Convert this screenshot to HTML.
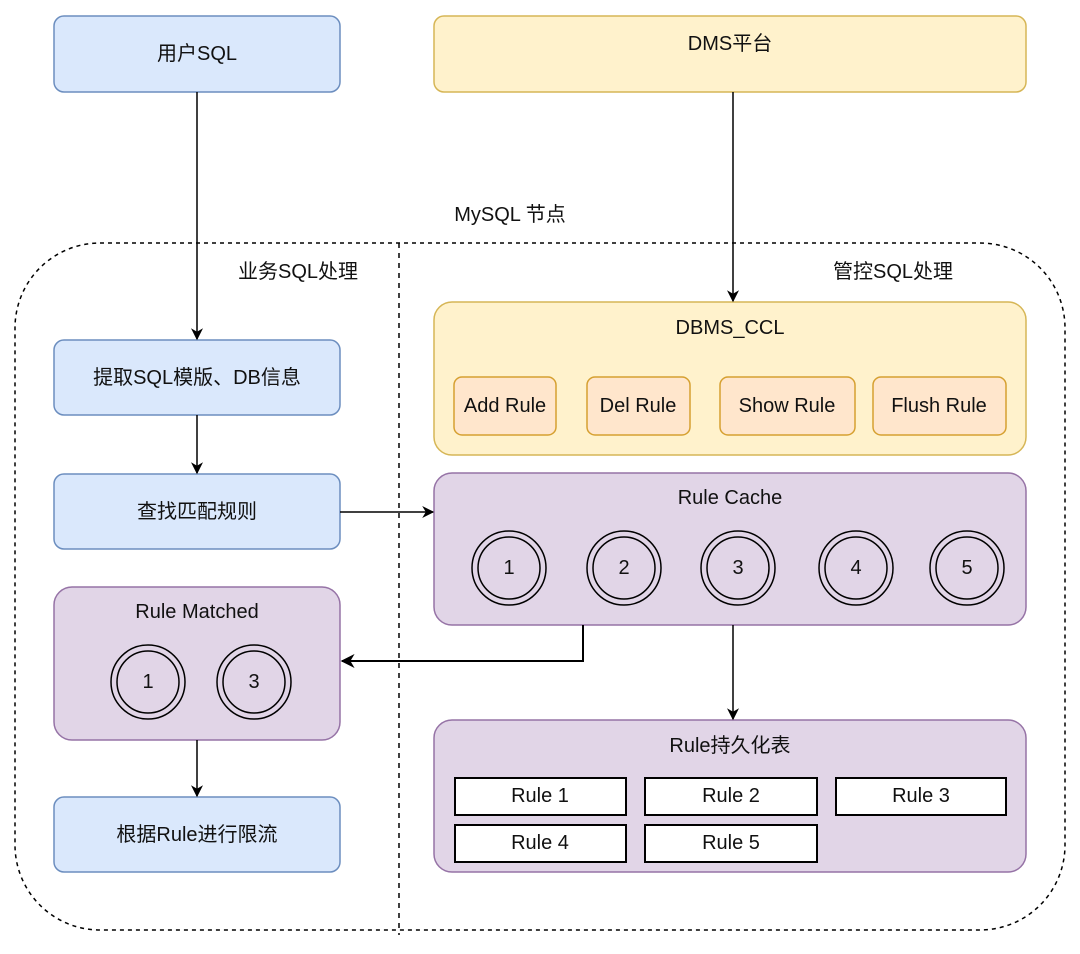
<!DOCTYPE html>
<html><head><meta charset="utf-8"><style>
html,body{margin:0;padding:0;background:#fff}
svg{display:block}
text{font-family:"Liberation Sans","Noto Sans CJK SC",sans-serif;font-size:20px;fill:#111;text-anchor:middle;dominant-baseline:central}
</style></head><body>
<svg width="1080" height="954" viewBox="0 0 1080 954" xmlns="http://www.w3.org/2000/svg">
<defs><marker id="a" viewBox="0 0 10 10" refX="9" refY="5" markerWidth="14" markerHeight="12" orient="auto" markerUnits="userSpaceOnUse"><path d="M0,0 L10,5 L0,10 L3,5 z" fill="#000"/></marker>
<marker id="b" viewBox="0 0 10 10" refX="9" refY="5" markerWidth="14" markerHeight="14" orient="auto" markerUnits="userSpaceOnUse"><path d="M0,0 L10,5 L0,10 L3,5 z" fill="#000"/></marker></defs>
<rect x="15" y="243" width="1050" height="687" rx="85" fill="none" stroke="#000" stroke-width="1.5" stroke-dasharray="4,4"/>
<line x1="399" y1="243" x2="399" y2="935" stroke="#000" stroke-width="1.5" stroke-dasharray="5,5"/>
<text x="510" y="215">MySQL 节点</text>
<text x="298" y="272">业务SQL处理</text>
<text x="893" y="272">管控SQL处理</text>
<g stroke-width="1.5">
<rect x="54" y="16" width="286" height="76" rx="10" fill="#dae8fc" stroke="#6c8ebf"/>
<rect x="434" y="16" width="592" height="76" rx="10" fill="#fff2cc" stroke="#d6b656"/>
<rect x="54" y="340" width="286" height="75" rx="10" fill="#dae8fc" stroke="#6c8ebf"/>
<rect x="54" y="474" width="286" height="75" rx="10" fill="#dae8fc" stroke="#6c8ebf"/>
<rect x="54" y="587" width="286" height="153" rx="18" fill="#e1d5e7" stroke="#9673a6"/>
<rect x="54" y="797" width="286" height="75" rx="10" fill="#dae8fc" stroke="#6c8ebf"/>
<rect x="434" y="302" width="592" height="153" rx="18" fill="#fff2cc" stroke="#d6b656"/>
<rect x="454" y="377" width="102" height="58" rx="8" fill="#ffe6cc" stroke="#d6a030"/>
<rect x="587" y="377" width="103" height="58" rx="8" fill="#ffe6cc" stroke="#d6a030"/>
<rect x="720" y="377" width="135" height="58" rx="8" fill="#ffe6cc" stroke="#d6a030"/>
<rect x="873" y="377" width="133" height="58" rx="8" fill="#ffe6cc" stroke="#d6a030"/>
<rect x="434" y="473" width="592" height="152" rx="18" fill="#e1d5e7" stroke="#9673a6"/>
<rect x="434" y="720" width="592" height="152" rx="18" fill="#e1d5e7" stroke="#9673a6"/>
</g>
<g fill="#fff" stroke="#000" stroke-width="2">
<rect x="455" y="778" width="171" height="37"/><rect x="645" y="778" width="172" height="37"/><rect x="836" y="778" width="170" height="37"/>
<rect x="455" y="825" width="171" height="37"/><rect x="645" y="825" width="172" height="37"/>
</g>
<g fill="none" stroke="#000" stroke-width="1.5">
<circle cx="509" cy="568" r="37"/><circle cx="509" cy="568" r="31"/>
<circle cx="624" cy="568" r="37"/><circle cx="624" cy="568" r="31"/>
<circle cx="738" cy="568" r="37"/><circle cx="738" cy="568" r="31"/>
<circle cx="856" cy="568" r="37"/><circle cx="856" cy="568" r="31"/>
<circle cx="967" cy="568" r="37"/><circle cx="967" cy="568" r="31"/>
<circle cx="148" cy="682" r="37"/><circle cx="148" cy="682" r="31"/>
<circle cx="254" cy="682" r="37"/><circle cx="254" cy="682" r="31"/>
</g>
<g stroke="#000" stroke-width="1.5" fill="none">
<line x1="197" y1="92" x2="197" y2="339" marker-end="url(#a)"/>
<line x1="733" y1="92" x2="733" y2="301" marker-end="url(#a)"/>
<line x1="197" y1="415" x2="197" y2="473" marker-end="url(#a)"/>
<line x1="340" y1="512" x2="433" y2="512" marker-end="url(#a)"/>
<polyline points="583,625 583,661 342,661" stroke-width="2" marker-end="url(#b)"/>
<line x1="733" y1="625" x2="733" y2="719" marker-end="url(#a)"/>
<line x1="197" y1="740" x2="197" y2="796" marker-end="url(#a)"/>
</g>
<text x="197" y="54">用户SQL</text>
<text x="730" y="44">DMS平台</text>
<text x="197" y="378">提取SQL模版、DB信息</text>
<text x="197" y="512">查找匹配规则</text>
<text x="197" y="612">Rule Matched</text>
<text x="197" y="835">根据Rule进行限流</text>
<text x="730" y="328">DBMS_CCL</text>
<text x="505" y="406">Add Rule</text>
<text x="638" y="406">Del Rule</text>
<text x="787" y="406">Show Rule</text>
<text x="939" y="406">Flush Rule</text>
<text x="730" y="498">Rule Cache</text>
<text x="730" y="746">Rule持久化表</text>
<g style="font-size:19px">
<text x="509" y="568">1</text><text x="624" y="568">2</text><text x="738" y="568">3</text><text x="856" y="568">4</text><text x="967" y="568">5</text>
<text x="148" y="682">1</text><text x="254" y="682">3</text>
</g>
<text x="540" y="796">Rule 1</text><text x="731" y="796">Rule 2</text><text x="921" y="796">Rule 3</text>
<text x="540" y="843">Rule 4</text><text x="731" y="843">Rule 5</text>
</svg>
</body></html>
